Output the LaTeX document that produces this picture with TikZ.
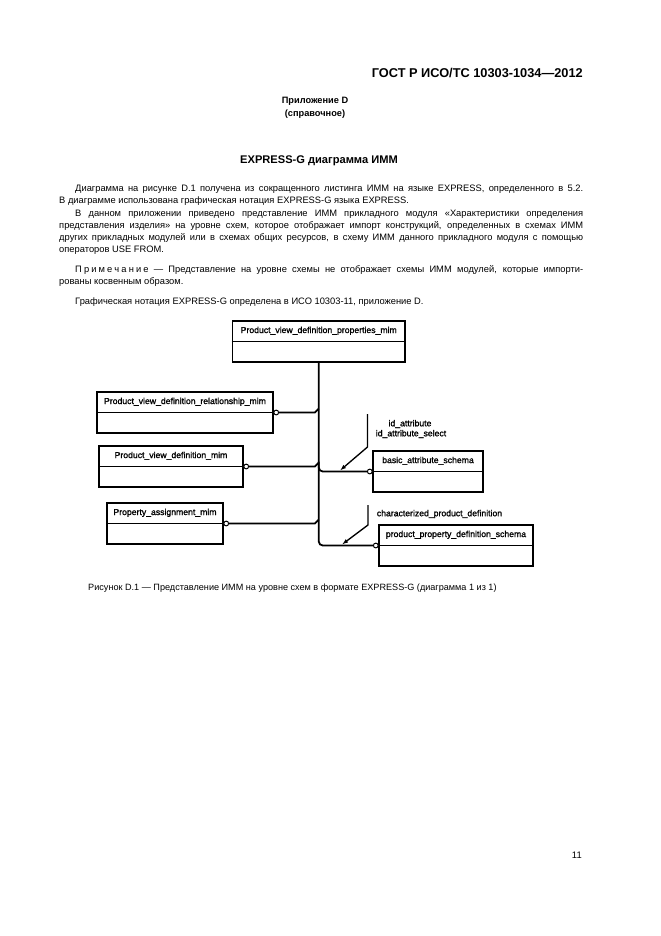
\documentclass[tikz,border=0pt]{standalone}
\usepackage{fontspec}
\setmainfont{Liberation Sans}
\newfontfamily\heavyfont[FakeBold=1.2]{Liberation Sans}
\usetikzlibrary{arrows.meta,calc}
\newcommand\lsp{\kern1.9pt}
\newcommand\fullline[1]{\makebox[471.6pt][s]{#1}}
\newcommand\indline[1]{\makebox[457.2pt][s]{#1}}
\begin{document}
\begin{tikzpicture}[x=0.9pt,y=-0.9pt,
  txt/.style={inner sep=0pt, anchor=base west, font=\fontsize{8.4}{10}\selectfont},
  ebox/.style={draw, line width=1.6pt, inner sep=0pt},
  lbl/.style={inner sep=0pt, font=\heavyfont\fontsize{7.8}{9}\selectfont},
  ocirc/.style={circle, draw, line width=0.9pt, fill=white, inner sep=0pt, minimum size=4.3pt},
  conn/.style={line width=1.6pt},
  refarrow/.style={line width=1.2pt, -{Latex[length=5.5pt,width=3.8pt]}}]
\useasboundingbox (0,0) rectangle (661,936);
\fill[white] (0,0) rectangle (661,936);

% header and texts
\node[inner sep=0pt, anchor=base east, font=\bfseries\fontsize{11.5}{13}\selectfont] (hdr) at (583,77.5) {ГОСТ Р ИСО/ТС 10303-1034—2012};
\node[inner sep=0pt, font=\bfseries\fontsize{8.3}{10}\selectfont] (app) at (315,101) {Приложение D};
\node[inner sep=0pt, font=\bfseries\fontsize{8.3}{10}\selectfont] (appt) at (315,114) {(справочное)};
\node[inner sep=0pt, font=\bfseries\fontsize{10}{12}\selectfont] (head) at (319,161) {EXPRESS-G диаграмма ИММ};

\node[txt] (l1) at (75,191) {\indline{Диаграмма на рисунке D.1 получена из сокращенного листинга ИММ на языке EXPRESS, определенного в 5.2.}};
\node[txt] (l2) at (59,203) {В диаграмме использована графическая нотация EXPRESS-G языка EXPRESS.};
\node[txt] (l3) at (75,216) {\indline{В данном приложении приведено представление ИММ прикладного модуля «Характеристики определения}};
\node[txt] (l4) at (59,228) {\fullline{представления изделия» на уровне схем, которое отображает импорт конструкций, определенных в схемах ИММ}};
\node[txt] (l5) at (59,240) {\fullline{других прикладных модулей или в схемах общих ресурсов, в схему ИММ данного прикладного модуля с помощью}};
\node[txt] (l6) at (59,252) {операторов USE FROM.};
\node[txt] (n1) at (75,272) {\indline{П\lsp р\lsp и\lsp м\lsp е\lsp ч\lsp а\lsp н\lsp и\lsp е — Представление на уровне схемы не отображает схемы ИММ модулей, которые импорти-}};
\node[txt] (n2) at (59,284) {рованы косвенным образом.};
\node[txt] (g1) at (75,304) {Графическая нотация EXPRESS-G определена в ИСО 10303-11, приложение D.};

% boxes
\node[ebox, minimum width={172.5*0.9pt}, minimum height={41*0.9pt}] (b1) at (318.75,341.5) {};
\node[ebox, minimum width={176*0.9pt}, minimum height={41*0.9pt}] (b2) at (185,412.5) {};
\node[ebox, minimum width={144*0.9pt}, minimum height={41*0.9pt}] (b3) at (171,466.5) {};
\node[ebox, minimum width={116*0.9pt}, minimum height={41*0.9pt}] (b4) at (165,523.5) {};
\node[ebox, minimum width={110*0.9pt}, minimum height={41*0.9pt}] (b5) at (428,471.5) {};
\node[ebox, minimum width={154*0.9pt}, minimum height={41*0.9pt}] (b6) at (456,545.5) {};
\foreach \b in {b1,b2,b3,b4,b5,b6} {\draw[line width=1.6pt] (\b.west) -- (\b.east);}

\node[lbl] (t1) at ($(b1.north)!0.5!(b1.center)$) {Product\_view\_definition\_properties\_mim};
\node[lbl] (t2) at ($(b2.north)!0.5!(b2.center)$) {Product\_view\_definition\_relationship\_mim};
\node[lbl] (t3) at ($(b3.north)!0.5!(b3.center)$) {Product\_view\_definition\_mim};
\node[lbl] (t4) at ($(b4.north)!0.5!(b4.center)$) {Property\_assignment\_mim};
\node[lbl] (t5) at ($(b5.north)!0.5!(b5.center)$) {basic\_attribute\_schema};
\node[lbl] (t6) at ($(b6.north)!0.5!(b6.center)$) {product\_property\_definition\_schema};

% circles
\node[ocirc, anchor=west] (c2) at ([xshift=-0.5pt]b2.east) {};
\node[ocirc, anchor=west] (c3) at ([xshift=-0.5pt]b3.east) {};
\node[ocirc, anchor=west] (c4) at ([xshift=-0.5pt]b4.east) {};
\node[ocirc, anchor=east] (c5) at ([xshift=0.5pt]b5.west) {};
\node[ocirc, anchor=east] (c6) at ([xshift=0.5pt]b6.west) {};

% trunk and connectors
\draw[conn, rounded corners=3.6pt] (b1.south) |- (c6.west);
\coordinate (k5) at ([yshift=9pt]c5.west -| b1.south);
\draw[conn, rounded corners=3.6pt] (k5) |- (c5.west);
\coordinate (j2) at ([yshift=3.6pt]c2.east -| b1.south);
\coordinate (j3) at ([yshift=3.6pt]c3.east -| b1.south);
\coordinate (j4) at ([yshift=3.6pt]c4.east -| b1.south);
\draw[conn] (c2.east) -- ([xshift=-3.6pt]c2.east -| b1.south) -- (j2);
\draw[conn] (c3.east) -- ([xshift=-3.6pt]c3.east -| b1.south) -- (j3);
\draw[conn] (c4.east) -- ([xshift=-3.6pt]c4.east -| b1.south) -- (j4);

% reference arrows and labels
\coordinate (a1s) at (367.5,414);
\coordinate (a1b) at (367.5,447);
\coordinate (a1t) at (340,470.5);
\coordinate (a2s) at (368,505);
\coordinate (a2b) at (368,525);
\coordinate (a2t) at (342,544.5);
\draw[refarrow] (a1s) -- (a1b) -- (a1t);
\draw[refarrow] (a2s) -- (a2b) -- (a2t);
\node[lbl] (r1) at (410,424) {id\_attribute};
\node[lbl] (r2) at (411,434) {id\_attribute\_select};
\node[lbl] (r3) at (439.5,514) {characterized\_product\_definition};

% caption and page number
\node[inner sep=0pt, anchor=base west, font=\fontsize{8.2}{10}\selectfont] (cap) at (88,590) {Рисунок D.1 — Представление ИММ на уровне схем в формате EXPRESS-G (диаграмма 1 из 1)};
\node[inner sep=0pt, anchor=base east, font=\fontsize{8.5}{10}\selectfont] (pg) at (582,858) {11};
\end{tikzpicture}
\end{document}
